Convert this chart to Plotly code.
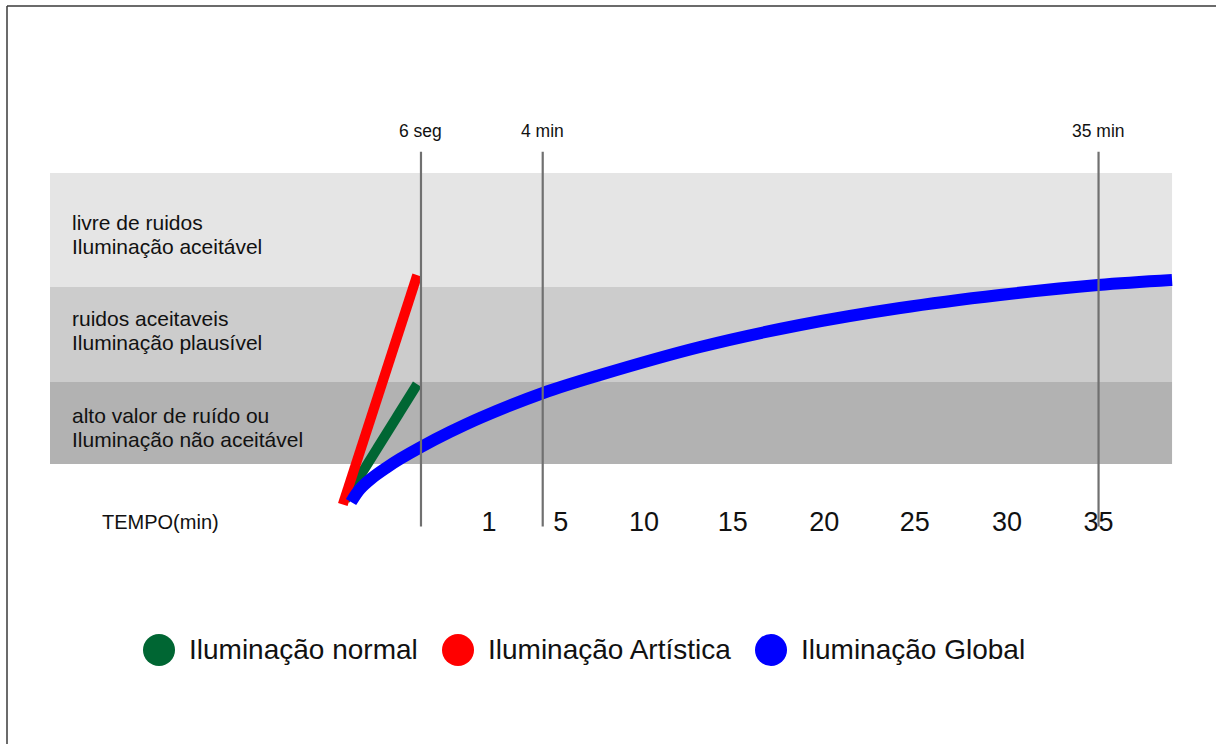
import plotly.graph_objects as go

# ---------------- data (schematic units) ----------------
# x: time position (linear in minutes beyond 1 min; the first seconds are stretched)
# y: quality level (0 = bottom of the chart bands, 100 = top)
tick_pos = [1.0, 5.0, 9.65, 14.6, 19.7, 24.75, 29.9, 35.0]
tick_labels = ["1", "5", "10", "15", "20", "25", "30", "35"]

marcos_x = [-2.79, 4.0, 35.0]
marcos_labels = ["6 seg", "4 min", "35 min"]

faixa_limites = [0, 28.2, 60.8, 100]
faixa_cores = ["#b2b2b2", "#cccccc", "#e5e5e5"]
faixa_textos = [
    ["alto valor de ruído ou", "Iluminação não aceitável"],
    ["ruidos aceitaveis", "Iluminação plausível"],
    ["livre de ruidos", "Iluminação aceitável"],
]
faixa_rotulo_y = [12.4, 45.9, 78.7]
faixa_x = [-23.48, 39.10]

normal_x = [-7.03, -3.0]
normal_y = [-12.4, 27.4]

artistica_x = [-7.15, -3.0]
artistica_y = [-13.9, 64.9]

global_x = [-6.69, -6.19, -5.52, -4.74, -3.96, -2.79, -1.17, 0.50, 4.02, 7.19,
            12.77, 18.35, 23.93, 29.50, 34.97, 39.10]
global_y = [-13.06, -8.59, -4.81, -1.37, 1.72, 5.84, 11.0, 15.81, 24.40, 30.58,
            40.21, 47.77, 53.61, 58.08, 61.51, 63.23]

series_names = ["Iluminação normal", "Iluminação Artística", "Iluminação Global"]
series_colors = ["#006633", "#ff0000", "#0000ff"]

# ---------------- figure ----------------
W, H = 1216, 744
PX_PER_X = 17.93
PX_PER_Y = 2.91
X0_PX = 471   # pixel position of x = 0
Y0_PX = 464   # pixel position of y = 0
FONT = "Liberation Sans, Arial, sans-serif"
TXT = "#111111"

fig = go.Figure()

# bands
for i in range(3):
    fig.add_shape(type="rect", xref="x", yref="y",
                  x0=faixa_x[0], x1=faixa_x[1],
                  y0=faixa_limites[i], y1=faixa_limites[i + 1],
                  fillcolor=faixa_cores[i], line=dict(width=0), layer="below")
    dy = 12 / PX_PER_Y
    for j, line in enumerate(faixa_textos[i]):
        fig.add_annotation(x=-22.36, y=faixa_rotulo_y[i] + (dy if j == 0 else -dy),
                           text=line, showarrow=False, xanchor="left", yanchor="middle",
                           font=dict(family=FONT, size=21, color=TXT))

# series
fig.add_trace(go.Scatter(x=normal_x, y=normal_y, mode="lines", name=series_names[0],
                         line=dict(color=series_colors[0], width=10), showlegend=False,
                         hoverinfo="skip"))
fig.add_trace(go.Scatter(x=artistica_x, y=artistica_y, mode="lines", name=series_names[1],
                         line=dict(color=series_colors[1], width=10), showlegend=False,
                         hoverinfo="skip"))
fig.add_trace(go.Scatter(x=global_x, y=global_y, mode="lines", name=series_names[2],
                         line=dict(color=series_colors[2], width=12, shape="spline", smoothing=1.0),
                         showlegend=False, hoverinfo="skip"))

# vertical time markers
for mx, ml in zip(marcos_x, marcos_labels):
    fig.add_shape(type="line", xref="x", yref="y", x0=mx, x1=mx, y0=-21.5, y1=107.3,
                  line=dict(color="#707070", width=2.2), layer="above")
    fig.add_annotation(x=mx, y=114.4, text=ml, showarrow=False, xanchor="center",
                       yanchor="middle", font=dict(family=FONT, size=17.5, color=TXT))

# axis title
fig.add_annotation(x=(160 - X0_PX) / PX_PER_X, y=(Y0_PX - 522) / PX_PER_Y, text="TEMPO(min)",
                   showarrow=False, xanchor="center", yanchor="middle",
                   font=dict(family=FONT, size=20, color=TXT))

# custom legend (large circles)
leg_cx = [159, 458, 771]
leg_cy = 650
for name, col, cx in zip(series_names, series_colors, leg_cx):
    fig.add_shape(type="circle", xref="paper", yref="paper",
                  xsizemode="pixel", ysizemode="pixel",
                  xanchor=cx / W, yanchor=1 - leg_cy / H,
                  x0=-16, x1=16, y0=-16, y1=16,
                  fillcolor=col, line=dict(width=0))
    fig.add_annotation(xref="paper", yref="paper", x=(cx + 28) / W, y=1 - (leg_cy - 1) / H,
                       text=name, showarrow=False, xanchor="left", yanchor="middle",
                       font=dict(family=FONT, size=28, color=TXT))

# frame lines (left and top)
fig.add_shape(type="line", xref="paper", yref="paper", x0=7 / W, x1=7 / W, y0=0, y1=1 - 6 / H,
              line=dict(color="#3a3a3a", width=1.5))
fig.add_shape(type="line", xref="paper", yref="paper", x0=7 / W, x1=1, y0=1 - 6 / H, y1=1 - 6 / H,
              line=dict(color="#3a3a3a", width=1.5))

fig.update_layout(
    width=W, height=H,
    margin=dict(l=0, r=0, t=0, b=0),
    paper_bgcolor="white", plot_bgcolor="white",
    showlegend=False,
    xaxis=dict(range=[-X0_PX / PX_PER_X, (W - X0_PX) / PX_PER_X],
               anchor="free", position=1 - 503 / H,
               showgrid=False, zeroline=False, showline=False, ticks="",
               tickmode="array", tickvals=tick_pos, ticktext=tick_labels,
               tickfont=dict(family=FONT, size=27, color=TXT), fixedrange=True),
    yaxis=dict(range=[(Y0_PX - H) / PX_PER_Y, Y0_PX / PX_PER_Y], visible=False,
               fixedrange=True),
)

fig.write_html("out.html", config={"displayModeBar": False},
               post_script="document.body.style.margin='0px';document.body.style.overflow='hidden';")
